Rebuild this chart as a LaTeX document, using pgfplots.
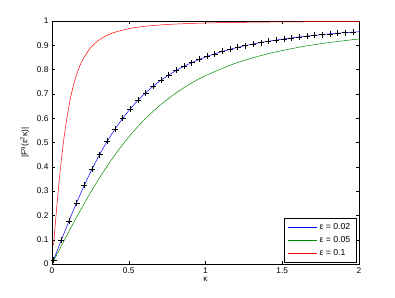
\documentclass[border=0pt]{standalone}
\usepackage{pgfplots}
\pgfplotsset{compat=1.18}
\usepackage{fontspec}
\setmainfont{Liberation Sans}
\definecolor{mred}{rgb}{1,0,0}
\definecolor{mgreen}{rgb}{0,0.55,0}
\definecolor{mblue}{rgb}{0,0,1}
\begin{document}
\begin{tikzpicture}[x=1pt,y=1pt]
\begin{axis}[
  scale only axis,
  width=307pt, height=243pt,
  xmin=0, xmax=2, ymin=0, ymax=1,
  xtick={0,0.5,1,1.5,2},
  xticklabels={0,0.5,1,1.5,2},
  ytick={0,0.1,0.2,0.3,0.4,0.5,0.6,0.7,0.8,0.9,1},
  yticklabels={0,0.1,0.2,0.3,0.4,0.5,0.6,0.7,0.8,0.9,1},
  tick align=inside,
  tick pos=both,
  major tick length=3pt,
  axis line style={line width=0.5pt},
  tick style={line width=0.4pt, black},
  every tick label/.append style={font=\fontsize{8.3}{9}\selectfont},
  /pgf/number format/assume math mode=true,
  xlabel={κ},
  ylabel={|F\textsuperscript{q}(ε\textsuperscript{2}κ)|},
  label style={font=\fontsize{8.3}{9}\selectfont},
  xlabel style={yshift=3pt},
  ylabel style={yshift=1pt},
  legend cell align=left,
  legend style={at={(0.992,0.008)}, anchor=south east, draw=black, line width=0.5pt,
    font=\fontsize{8.7}{10}\selectfont, inner xsep=4pt, inner ysep=3pt, row sep=1.5pt},
  legend image code/.code={\draw[#1, line width=0.5pt] (0pt,0pt) -- (29pt,0pt);},
]
\addplot[mblue, line width=0.5pt, smooth] coordinates {
(0.01,0.0163)(0.06,0.0971)(0.11,0.1761)(0.16,0.2519)(0.21,0.3232)(0.26,0.3895)
(0.31,0.4502)(0.36,0.5053)(0.41,0.5548)(0.46,0.5991)(0.51,0.6385)(0.56,0.6734)
(0.61,0.7043)(0.66,0.7317)(0.71,0.7560)(0.76,0.7775)(0.81,0.7965)(0.86,0.8135)
(0.91,0.8286)(0.96,0.8421)(1.01,0.8542)(1.06,0.8650)(1.11,0.8748)(1.16,0.8835)
(1.21,0.8915)(1.26,0.8987)(1.31,0.9053)(1.36,0.9112)(1.41,0.9167)(1.46,0.9216)
(1.51,0.9262)(1.56,0.9304)(1.61,0.9342)(1.66,0.9377)(1.71,0.9410)(1.76,0.9441)
(1.81,0.9469)(1.86,0.9495)(1.91,0.9519)(1.96,0.9542)(2.0,0.9559)};
\addlegendentry{ε = 0.02}
\addplot[mgreen, line width=0.5pt, smooth] coordinates {
(0.01,0.0123)(0.1,0.1217)(0.2,0.2382)(0.3,0.3453)(0.4,0.4404)(0.5,0.5227)
(0.6,0.5926)(0.7,0.6513)(0.8,0.7003)(0.9,0.7410)(1.0,0.7750)(1.2,0.8271)
(1.4,0.8641)(1.6,0.8910)(1.8,0.9109)(2.0,0.9260)};
\addlegendentry{ε = 0.05}
\addplot[mred, line width=0.5pt, smooth] coordinates {
(0.01,0.0774)(0.02,0.1534)(0.03,0.2268)(0.04,0.2965)(0.05,0.3618)(0.06,0.4222)
(0.07,0.4775)(0.08,0.5274)(0.09,0.5726)(0.1,0.6131)(0.12,0.6814)(0.14,0.7357)
(0.16,0.7790)(0.18,0.8131)(0.2,0.8407)(0.25,0.8890)(0.3,0.9188)(0.35,0.9384)
(0.4,0.9519)(0.5,0.9684)(0.6,0.9777)(0.7,0.9835)(0.8,0.9873)(1.0,0.9918)
(1.25,0.9947)(1.5,0.9963)(1.75,0.9973)(2.0,0.9979)};
\addlegendentry{ε = 0.1}
\addplot[black, only marks, mark=+, mark size=3pt, mark options={line width=0.5pt}, forget plot] coordinates {
(0.01,0.0163)(0.06,0.0971)(0.11,0.1761)(0.16,0.2519)(0.21,0.3232)(0.26,0.3895)
(0.31,0.4502)(0.36,0.5053)(0.41,0.5548)(0.46,0.5991)(0.51,0.6385)(0.56,0.6734)
(0.61,0.7043)(0.66,0.7317)(0.71,0.7560)(0.76,0.7775)(0.81,0.7965)(0.86,0.8135)
(0.91,0.8286)(0.96,0.8421)(1.01,0.8542)(1.06,0.8650)(1.11,0.8748)(1.16,0.8835)
(1.21,0.8915)(1.26,0.8987)(1.31,0.9053)(1.36,0.9112)(1.41,0.9167)(1.46,0.9216)
(1.51,0.9262)(1.56,0.9304)(1.61,0.9342)(1.66,0.9377)(1.71,0.9410)(1.76,0.9441)
(1.81,0.9469)(1.86,0.9495)(1.91,0.9519)(1.96,0.9542)};
\end{axis}
\useasboundingbox ([shift={(-52pt,-33pt)}]current axis.south west) rectangle ([shift={(36pt,21pt)}]current axis.north east);
\end{tikzpicture}
\end{document}
